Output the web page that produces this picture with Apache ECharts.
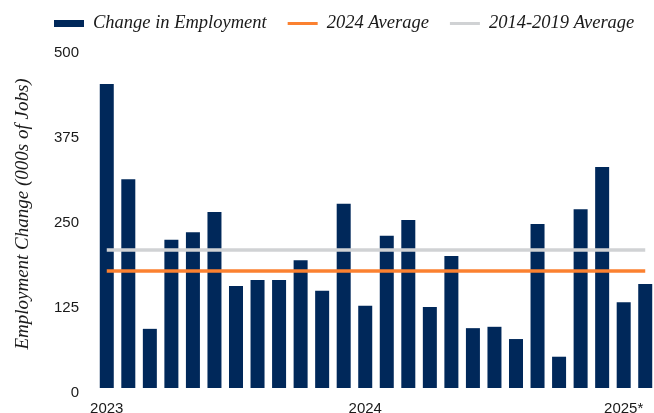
<!DOCTYPE html>
<html>
<head>
<meta charset="utf-8">
<script src="https://cdn.jsdelivr.net/npm/echarts@6/dist/echarts.min.js"></script>
<style>
html, body { margin: 0; padding: 0; background: #fff; }
#chart { width: 654px; height: 413px; }
</style>
</head>
<body>
<div id="chart"></div>
<script>
// monthly change in employment, thousands of jobs
var categories = ['Jan 2023', 'Feb 2023', 'Mar 2023', 'Apr 2023', 'May 2023', 'Jun 2023',
    'Jul 2023', 'Aug 2023', 'Sep 2023', 'Oct 2023', 'Nov 2023', 'Dec 2023',
    'Jan 2024', 'Feb 2024', 'Mar 2024', 'Apr 2024', 'May 2024', 'Jun 2024',
    'Jul 2024', 'Aug 2024', 'Sep 2024', 'Oct 2024', 'Nov 2024', 'Dec 2024',
    'Jan 2025', 'Feb 2025'];
var employment = [447, 307, 87, 218, 229, 259, 150, 159, 159, 188, 143, 271,
    121, 224, 247, 119, 194, 88, 90, 72, 241, 46, 263, 325, 126, 153];
var avg2024 = 172;
var avg2014to2019 = 203;
var tickLabels = { 0: '2023', 12: '2024', 24: '2025*' };
var yTicks = [0, 125, 250, 375, 500];

var first = categories[0];
var last = categories[categories.length - 1];

var chartDom = document.getElementById('chart');
var myChart = echarts.init(chartDom);
var serif = '"Liberation Serif", "Times New Roman", serif';
var sans = '"Liberation Sans", Arial, sans-serif';

var option = {
    animation: false,
    legend: {
        left: 49,
        top: 9,
        itemWidth: 30,
        itemHeight: 7,
        itemGap: 21,
        symbolKeepAspect: true,
        textStyle: {
            fontFamily: serif,
            fontStyle: 'italic',
            fontSize: 18.5,
            color: '#1a1a1a',
            padding: [0, 0, 0, 4]
        },
        data: [
            { name: 'Change in Employment', icon: 'rect' },
            { name: '2024 Average', icon: 'path://M0,0H30V3H0Z' },
            { name: '2014-2019 Average', icon: 'path://M0,0H30V3H0Z' }
        ]
    },
    grid: {
        left: 96,
        top: 48,
        width: 560,
        bottom: 25,
        containLabel: false,
        outerBoundsMode: 'none'
    },
    xAxis: {
        type: 'category',
        data: categories,
        axisLine: { show: false },
        axisTick: { show: false },
        axisLabel: {
            interval: 0,
            margin: 13,
            fontFamily: sans,
            fontSize: 15,
            color: '#1a1a1a',
            formatter: function (v, i) { return tickLabels[i] || ''; }
        }
    },
    yAxis: {
        type: 'value',
        min: yTicks[0],
        max: yTicks[yTicks.length - 1],
        interval: 125,
        splitLine: { show: false },
        axisLine: { show: false },
        axisTick: { show: false },
        axisLabel: {
            margin: 17,
            fontFamily: sans,
            fontSize: 15,
            color: '#1a1a1a',
            verticalAlign: 'top',
            lineHeight: 9
        },
        name: 'Employment Change (000s of Jobs)',
        nameLocation: 'middle',
        nameGap: 64,
        nameTextStyle: {
            fontFamily: serif,
            fontStyle: 'italic',
            fontSize: 19,
            color: '#1a1a1a',
            padding: [0, 0, 0, 8]
        }
    },
    series: [{
        name: 'Change in Employment',
        type: 'bar',
        data: employment,
        barCategoryGap: '35%',
        itemStyle: { color: '#00285a' }
    }, {
        name: '2024 Average',
        type: 'line',
        data: [[first, avg2024], [last, avg2024]],
        symbol: 'none',
        z: 3,
        itemStyle: { color: '#fb8130' },
        lineStyle: { color: '#fb8130', width: 3.5 }
    }, {
        name: '2014-2019 Average',
        type: 'line',
        data: [[first, avg2014to2019], [last, avg2014to2019]],
        symbol: 'none',
        z: 3,
        itemStyle: { color: '#d0d2d4' },
        lineStyle: { color: '#d0d2d4', width: 3.5 }
    }]
};
myChart.setOption(option);
</script>
</body>
</html>
